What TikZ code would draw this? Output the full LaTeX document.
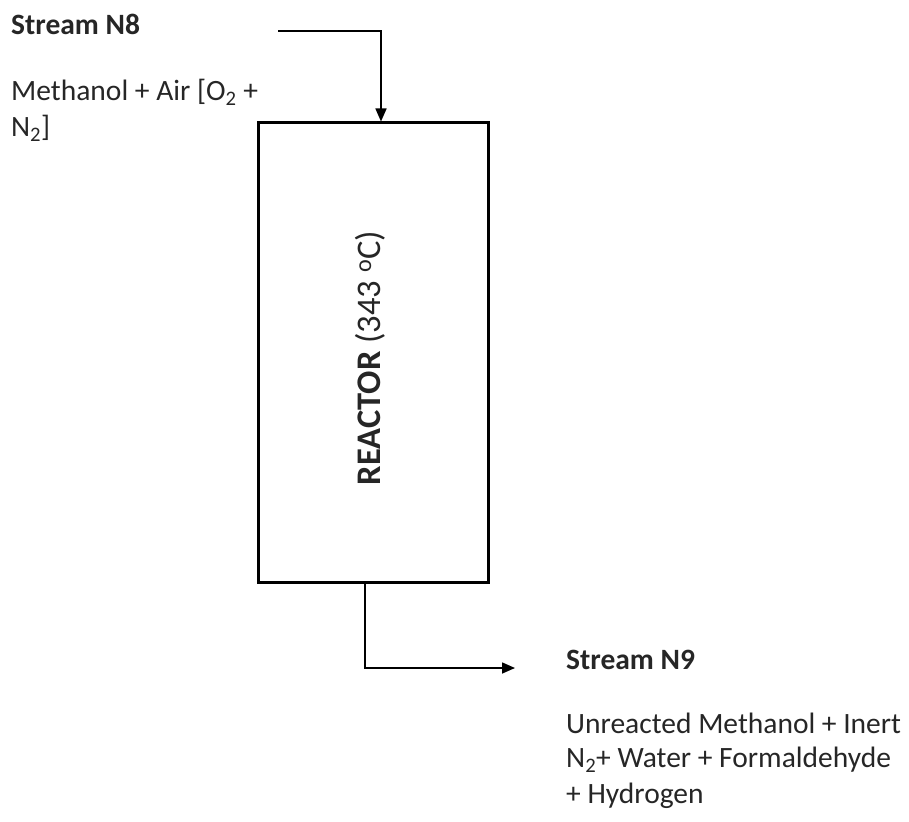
\documentclass[tikz,border=0pt]{standalone}
\usepackage{fontspec}
\setmainfont{Carlito}
\usetikzlibrary{arrows.meta}
\begin{document}
\begin{tikzpicture}[x=1pt,y=-1pt,
  txt/.style={anchor=west,inner sep=0pt,font=\fontsize{29.5}{34}\selectfont,text=black!85},
  bold/.style={txt,font=\fontsize{29.5}{34}\selectfont\bfseries},
  flow/.style={line width=1.6pt,-{Triangle[length=13pt,width=11pt]}},
  vessel/.style={draw,line width=3pt,minimum width=230pt,minimum height=459pt,inner sep=0pt}]
\useasboundingbox (0,0) rectangle (909,821);
\node[vessel] (reactor) at (373,352.5) {};
\node[rotate=90,inner sep=0pt,font=\fontsize{34.5}{40}\selectfont,text=black!85] (lbl) at (370,358) {\textbf{REACTOR} (343 \textsuperscript{o}C)};
\node[bold] (s8) at (11,24) {Stream N8};
\node[txt] (s8a) at (11,92) {Methanol + Air [O\textsubscript{2} +};
\node[txt] (s8b) at (11,128) {N\textsubscript{2}]};
\node[bold] (s9) at (566,660) {Stream N9};
\node[txt] (s9a) at (566,723) {Unreacted Methanol + Inert};
\node[txt] (s9b) at (566,760) {N\textsubscript{2}+ Water + Formaldehyde};
\node[txt] (s9c) at (566,796) {+ Hydrogen};
\coordinate (in) at (278,31);
\coordinate (out) at (515,668);
\draw[flow] (in) -| ([xshift=8pt]reactor.north);
\draw[flow] ([xshift=-8pt]reactor.south) |- (out);
\end{tikzpicture}
\end{document}
